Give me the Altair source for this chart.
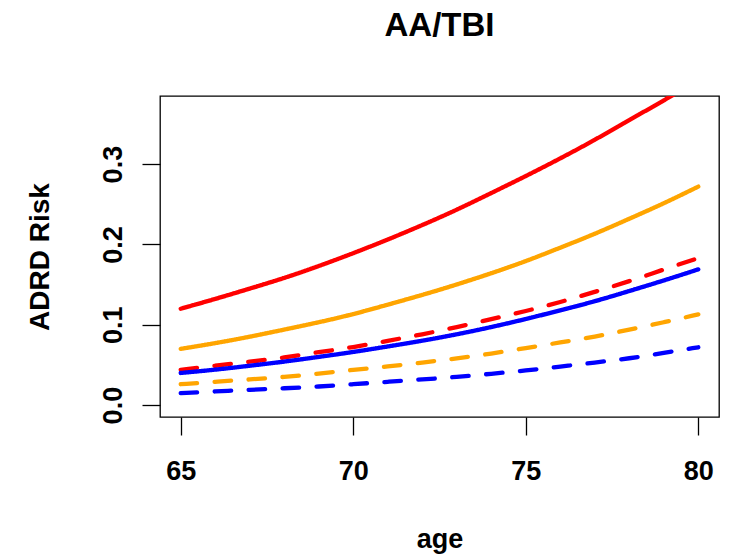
import altair as alt
import pandas as pd

ages = [65, 66, 67, 68, 69, 70, 71, 72, 73, 74, 75, 76, 77, 78, 79, 80]

red_solid = [0.120, 0.132, 0.145, 0.158, 0.173, 0.189, 0.206, 0.224, 0.243, 0.264,
             0.285, 0.307, 0.330, 0.355, 0.379, 0.405]
orange_solid = [0.070, 0.077, 0.085, 0.094, 0.103, 0.113, 0.125, 0.137, 0.150, 0.164,
                0.179, 0.196, 0.213, 0.232, 0.251, 0.272]
blue_solid = [0.040, 0.044, 0.049, 0.054, 0.060, 0.066, 0.073, 0.080, 0.088, 0.097,
              0.107, 0.118, 0.129, 0.142, 0.155, 0.169]
red_dashed = [0.044, 0.049, 0.054, 0.059, 0.066, 0.072, 0.080, 0.088, 0.097, 0.107,
              0.117, 0.128, 0.141, 0.154, 0.169, 0.183]
orange_dashed = [0.026, 0.029, 0.032, 0.035, 0.039, 0.044, 0.048, 0.053, 0.058, 0.064,
                 0.071, 0.078, 0.085, 0.094, 0.103, 0.113]
blue_dashed = [0.015, 0.017, 0.019, 0.021, 0.023, 0.026, 0.029, 0.032, 0.035, 0.039,
               0.043, 0.048, 0.053, 0.058, 0.065, 0.072]

series = [
    ("red_dashed", "dashed", red_dashed),
    ("orange_dashed", "dashed", orange_dashed),
    ("blue_dashed", "dashed", blue_dashed),
    ("red_solid", "solid", red_solid),
    ("orange_solid", "solid", orange_solid),
    ("blue_solid", "solid", blue_solid),
]
series_names = [s[0] for s in series]
series_colors = ["#FF0000", "#FFA500", "#0000FF", "#FF0000", "#FFA500", "#0000FF"]

rows = []
for order, (name, ltype, vals) in enumerate(series):
    for a, v in zip(ages, vals):
        rows.append({"age": a, "risk": v, "series": name, "ltype": ltype, "order": order})
df = pd.DataFrame(rows)

FONT = "Liberation Sans"

chart = alt.Chart(df).mark_line(
    strokeWidth=4.3, strokeCap="round", clip=True, interpolate="basis"
).encode(
    x=alt.X("age:Q",
            scale=alt.Scale(domain=[64.4, 80.6], nice=False, zero=False),
            axis=alt.Axis(values=[65, 70, 75, 80], title="age", grid=False, domain=False,
                          tickSize=18, tickColor="black", tickWidth=1.3,
                          labelFont=FONT, labelFontSize=27, labelColor="black",
                          labelFontWeight="bold",
                          labelBaseline="alphabetic", labelPadding=44, labelFlush=False,
                          titleFont=FONT, titleFontSize=27, titleFontWeight="bold",
                          titleColor="black", titleBaseline="alphabetic",
                          titleX=279.5, titleY=130)),
    y=alt.Y("risk:Q",
            scale=alt.Scale(domain=[-0.0148, 0.3848], nice=False, zero=False),
            axis=alt.Axis(values=[0.0, 0.1, 0.2, 0.3], format=".1f", title="ADRD Risk",
                          grid=False, domain=False,
                          tickSize=18, tickColor="black", tickWidth=1.3,
                          labelFont=FONT, labelFontSize=27, labelColor="black",
                          labelFontWeight="bold",
                          labelAngle=270, labelAlign="center", labelBaseline="alphabetic",
                          labelPadding=21, labelFlush=False,
                          titleFont=FONT, titleFontSize=28, titleFontWeight="bold",
                          titleColor="black", titleAngle=270, titleBaseline="alphabetic",
                          titleX=-112, titleY=160.5)),
    color=alt.Color("series:N", scale=alt.Scale(domain=series_names, range=series_colors),
                    legend=None),
    strokeDash=alt.StrokeDash("ltype:N",
                              scale=alt.Scale(domain=["solid", "dashed"],
                                              range=[[1, 0], [16.5, 17.5]]),
                              legend=None),
    order=alt.Order("order:Q"),
).properties(
    width=559,
    height=321,
    title=alt.TitleParams(text="AA/TBI", font=FONT, fontSize=33, fontWeight="bold",
                          color="black", anchor="middle", baseline="alphabetic", offset=27),
    autosize=alt.AutoSizeParams(type="none"),
    padding={"left": 160, "top": 96, "right": 21, "bottom": 139},
    background="white",
).configure_view(
    stroke="black", strokeWidth=1.3
)

chart.save("out.html", embed_options={"renderer": "svg", "actions": False})
